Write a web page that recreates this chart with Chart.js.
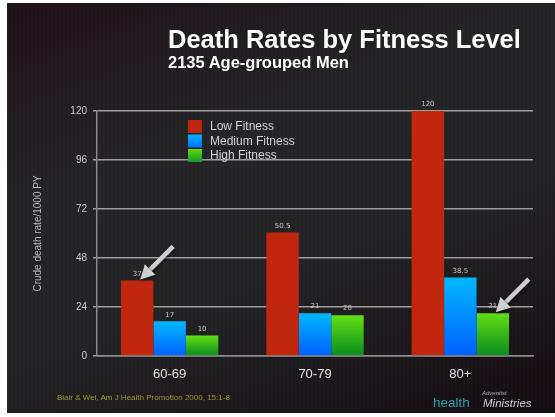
<!DOCTYPE html>
<html>
<head>
<meta charset="utf-8">
<script src="https://cdn.jsdelivr.net/npm/chart.js@4"></script>
<style>
  html, body { margin: 0; padding: 0; background: #fff; }
  body { width: 555px; height: 417px; position: relative; overflow: hidden; font-family: "Liberation Sans", Arial, sans-serif; }
  #slide {
    position: absolute; left: 7px; top: 3px; width: 548px; height: 410px;
    background:
      repeating-linear-gradient(90deg, rgba(255,255,255,0.012) 0 2px, rgba(0,0,0,0.03) 2px 4px),
      linear-gradient(160deg, #1d1116 0%, #242427 35%, #232325 60%, #140c10 100%);
  }
  #chartBox { position: absolute; left: 0; top: 0; width: 555px; height: 417px; }
  .title { position: absolute; left: 168px; top: 25px; color: #fff; font-weight: bold; font-size: 25.5px; white-space: nowrap; }
  .subtitle { position: absolute; left: 168px; top: 53px; color: #fff; font-weight: bold; font-size: 16.5px; white-space: nowrap; }
  .cite { position: absolute; left: 57px; top: 393px; color: #9c9a34; font-size: 8px; white-space: nowrap; }
  .logo { position: absolute; left: 433px; top: 390px; color: #2a9fb0; white-space: nowrap; }
  .logo .h { position: absolute; left: 0; top: 5px; font-size: 13.5px; }
  .logo .a { position: absolute; left: 49px; top: 0px; font-size: 6px; font-style: italic; color: #aab; }
  .logo .m { position: absolute; left: 50px; top: 7px; font-size: 11.5px; font-style: italic; color: #ccd; }
</style>
</head>
<body>
<div id="slide"></div>
<div id="chartBox"><canvas id="c" width="555" height="417"></canvas></div>
<div class="title">Death Rates by Fitness Level</div>
<div class="subtitle">2135 Age-grouped Men</div>
<div class="cite">Blair &amp; Wei, Am J Health Promotion 2000, 15:1-8</div>
<div class="logo"><span class="h">health</span><span class="a">Adventist</span><span class="m">Ministries</span></div>
<script>
// data
const ageGroups = ['60-69', '70-79', '80+'];
const lowFitness = [37, 60.5, 120];
const mediumFitness = [17, 21, 38.5];
const highFitness = [10, 20, 21];
// value labels as printed on the slide
const lowLabels = ['37', '50.5', '120'];
const mediumLabels = ['17', '21', '38.5'];
const highLabels = ['10', '20', '21'];
const yTicks = [0, 24, 48, 72, 96, 120];

const ctx = document.getElementById('c').getContext('2d');

// gradient from top of each bar down to the baseline
function barGrad(c, top, bottom) {
    const chart = c.chart;
    const y = chart.scales && chart.scales.y;
    if (!chart.chartArea || !y || c.raw == null) return top;
    const g = chart.ctx.createLinearGradient(0, y.getPixelForValue(c.raw), 0, y.getPixelForValue(0));
    g.addColorStop(0, top);
    g.addColorStop(1, bottom);
    return g;
}

// legend drawn inside plot area (top left)
const innerLegend = {
    id: 'innerLegend',
    afterDraw(chart) {
        const c = chart.ctx;
        const a = chart.chartArea;
        const x = a.left + 91, y = a.top + 9;
        const items = [
            ['Low Fitness', '#c1260f', '#c1260f'],
            ['Medium Fitness', '#00b4ff', '#0070ff'],
            ['High Fitness', '#5fdc12', '#16962a']
        ];
        c.save();
        c.font = '12px "Liberation Sans", Arial, sans-serif';
        c.textBaseline = 'middle';
        items.forEach((it, i) => {
            const yy = y + i * 14.5;
            const g = c.createLinearGradient(0, yy, 0, yy + 13);
            g.addColorStop(0, it[1]);
            g.addColorStop(1, it[2]);
            c.fillStyle = g;
            c.fillRect(x, yy, 14, 13);
            c.fillStyle = '#d4d4d4';
            c.fillText(it[0], x + 22, yy + 7);
        });
        c.restore();
    }
};

// small value labels + the two arrows
const barNotes = {
    id: 'barNotes',
    afterDatasetsDraw(chart) {
        const c = chart.ctx;
        const labels = [lowLabels, mediumLabels, highLabels];
        c.save();
        c.font = '7px "DejaVu Sans", sans-serif';
        c.fillStyle = '#c4c4c4';
        c.textAlign = 'center';
        c.textBaseline = 'bottom';
        chart.data.datasets.forEach((ds, di) => {
            chart.getDatasetMeta(di).data.forEach((bar, i) => {
                c.fillText(labels[di][i], bar.x, bar.y - 3);
            });
        });
        // arrows pointing to 60-69 low and 80+ high bars
        const targets = [chart.getDatasetMeta(0).data[0], chart.getDatasetMeta(2).data[2]];
        targets.forEach(bar => {
            const tx = bar.x + 3, ty = bar.y - 1;
            const fx = tx + 33, fy = ty - 33;
            const ang = Math.atan2(ty - fy, tx - fx);
            c.shadowColor = 'rgba(0,0,0,0.6)';
            c.shadowBlur = 3;
            c.shadowOffsetX = 1;
            c.shadowOffsetY = 1;
            c.strokeStyle = '#cfcfcf';
            c.fillStyle = '#cfcfcf';
            c.lineWidth = 4.5;
            c.beginPath();
            c.moveTo(fx, fy);
            c.lineTo(tx - 9 * Math.cos(ang), ty - 9 * Math.sin(ang));
            c.stroke();
            c.beginPath();
            c.moveTo(tx, ty);
            c.lineTo(tx - 14 * Math.cos(ang) + 7.5 * Math.sin(ang), ty - 14 * Math.sin(ang) - 7.5 * Math.cos(ang));
            c.lineTo(tx - 14 * Math.cos(ang) - 7.5 * Math.sin(ang), ty - 14 * Math.sin(ang) + 7.5 * Math.cos(ang));
            c.closePath();
            c.fill();
        });
        c.restore();
    }
};

new Chart(ctx, {
    type: 'bar',
    data: {
        labels: ageGroups,
        datasets: [
            { label: 'Low Fitness', data: lowFitness, backgroundColor: '#c1260f' },
            { label: 'Medium Fitness', data: mediumFitness,
              backgroundColor: c => barGrad(c, '#00b8ff', '#0060ff') },
            { label: 'High Fitness', data: highFitness,
              backgroundColor: c => barGrad(c, '#62e014', '#0a8a20') }
        ]
    },
    options: {
        responsive: false,
        animation: false,
        layout: { padding: { left: 0, right: 22, top: 111, bottom: 0 } },
        datasets: { bar: { categoryPercentage: 0.67, barPercentage: 1.0 } },
        plugins: {
            legend: { display: false },
            tooltip: { enabled: false }
        },
        scales: {
            x: {
                grid: { display: false, drawTicks: false },
                border: { color: '#8a8a8a', width: 1.5 },
                ticks: { color: '#e2e2e2', padding: 11, font: { size: 13, family: '"Liberation Sans", Arial, sans-serif' } },
                afterFit(scale) { scale.height = 61; }
            },
            y: {
                min: 0,
                max: 120,
                afterBuildTicks(scale) { scale.ticks = yTicks.map(v => ({ value: v })); },
                grid: { color: 'rgba(190,190,190,0.8)', lineWidth: 1.5, tickLength: 4 },
                border: { color: '#8a8a8a', width: 1.5 },
                ticks: { color: '#cfcfcf', padding: 6, font: { size: 10, family: '"Liberation Sans", Arial, sans-serif' } },
                title: {
                    display: true,
                    text: 'Crude death rate/1000 PY',
                    color: '#bdbdbd',
                    font: { size: 10, family: '"Liberation Sans", Arial, sans-serif' },
                    padding: { top: 32, bottom: 0 }
                },
                afterFit(scale) { scale.width = 97; }
            }
        }
    },
    plugins: [innerLegend, barNotes]
});
</script>
</body>
</html>
